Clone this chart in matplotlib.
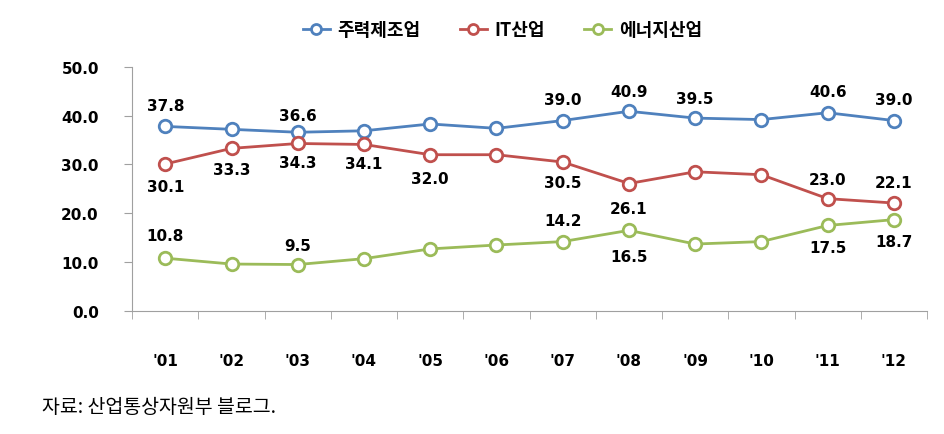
import numpy as np
import matplotlib.pyplot as plt

plt.rcParams['font.family'] = ['DejaVu Sans', 'Noto Sans CJK KR']

years = ["'01", "'02", "'03", "'04", "'05", "'06", "'07", "'08", "'09", "'10", "'11", "'12"]
main_mfg = [37.8, 37.2, 36.6, 36.9, 38.3, 37.4, 39.0, 40.9, 39.5, 39.2, 40.6, 39.0]
it_ind = [30.1, 33.3, 34.3, 34.1, 32.0, 32.0, 30.5, 26.1, 28.5, 27.9, 23.0, 22.1]
energy = [10.8, 9.6, 9.5, 10.7, 12.7, 13.5, 14.2, 16.5, 13.7, 14.2, 17.5, 18.7]
names = ['주력제조업', 'IT산업', '에너지산업']

# labels shown in the original (index, text)
main_labels = {0: '37.8', 2: '36.6', 6: '39.0', 7: '40.9', 8: '39.5', 10: '40.6', 11: '39.0'}
it_labels = {0: '30.1', 1: '33.3', 2: '34.3', 3: '34.1', 4: '32.0', 6: '30.5', 7: '26.1', 10: '23.0', 11: '22.1'}
energy_labels = {0: '10.8', 2: '9.5', 6: '14.2', 7: '16.5', 10: '17.5', 11: '18.7'}

colors = ['#4F81BD', '#C0504D', '#9BBB59']

fig = plt.figure(figsize=(9.44, 4.35), dpi=100)
ax = fig.add_axes([0.140, 0.283, 0.842, 0.561])

x = np.arange(len(years))
series = [main_mfg, it_ind, energy]
for vals, c, name in zip(series, colors, names):
    ax.plot(x, vals, '-o', color=c, lw=2, ms=9, mfc='white', mec=c, mew=2, label=name)

def put(labels, vals, offs):
    for i, t in labels.items():
        dy = offs.get(i, 0)
        ax.annotate(t, (x[i], vals[i]), xytext=(0, dy), textcoords='offset points',
                    ha='center', va='center', fontsize=11, fontweight='bold')

put(main_labels, main_mfg, {0: 15, 2: 12, 6: 15, 7: 14, 8: 14, 10: 15, 11: 15})
put(it_labels, it_ind, {0: -16, 1: -15, 2: -14, 3: -14, 4: -17, 6: -15, 7: -18, 10: 14, 11: 15})
put(energy_labels, energy, {0: 16, 2: 14, 6: 15, 7: -19, 10: -16, 11: -16})

ax.set_xlim(-0.5, len(years) - 0.5)
ax.set_ylim(0, 50)
ax.set_yticks(np.arange(0, 51, 10))
ax.set_yticklabels([f'{v:.1f}' for v in np.arange(0, 51, 10)], fontsize=11, fontweight='bold')
ax.set_xticks(x)
ax.set_xticklabels(years, fontsize=11, fontweight='bold')
ax.set_xticks(np.arange(-0.5, len(years)), minor=True)
ax.tick_params(axis='x', which='major', length=0, pad=30)
ax.tick_params(axis='x', which='minor', length=6, color='#A0A0A0', direction='out')
ax.tick_params(axis='y', length=6, color='#A0A0A0', pad=18)
for s in ['top', 'right']:
    ax.spines[s].set_visible(False)
for s in ['left', 'bottom']:
    ax.spines[s].set_color('#A0A0A0')

leg = fig.legend(loc='center', bbox_to_anchor=(0.532, 0.93), ncol=3, frameon=False,
                 prop={'family': 'Noto Sans CJK KR', 'weight': 'bold', 'size': 13},
                 handlelength=1.5, columnspacing=2.2, handletextpad=0.4, markerscale=0.8)

fig.text(0.045, 0.05, '자료: 산업통상자원부 블로그.', fontsize=14, family='Noto Sans CJK KR')

fig.savefig('out.png', dpi=100)
